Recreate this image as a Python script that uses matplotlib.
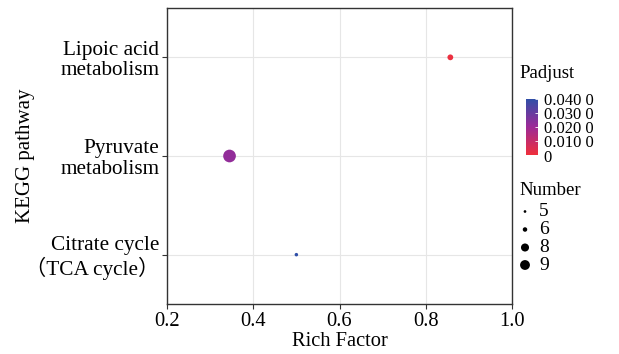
import matplotlib
matplotlib.use("Agg")
import matplotlib.pyplot as plt
import numpy as np
from matplotlib.colors import LinearSegmentedColormap, Normalize

# ---- data ----
pathways = ["Citrate cycle\n\uff08TCA cycle\uff09", "Pyruvate\nmetabolism", "Lipoic acid\nmetabolism"]
rich_factor = [0.50, 0.345, 0.857]
padjust = [0.040, 0.022, 0.001]
number = [5, 9, 6]
legend_numbers = [5, 6, 8, 9]
cbar_ticks = [0, 0.01, 0.02, 0.03, 0.04]
cbar_labels = ["0", "0.010 0", "0.020 0", "0.030 0", "0.040 0"]
x_ticks = [0.2, 0.4, 0.6, 0.8, 1.0]

FONT = ["Liberation Serif", "Noto Sans CJK SC", "DejaVu Sans"]
plt.rcParams["font.family"] = FONT

cmap = LinearSegmentedColormap.from_list(
    "padj", [(0.0, "#F0303C"), (0.5, "#9C2A98"), (1.0, "#2C50A8")])
norm = Normalize(vmin=0, vmax=0.0405)

def size_pts(n):
    # diameter in px -> points^2 (dpi 100)
    d_px = 3.5 + (n - 5) * 2.3
    d_pt = d_px * 0.72
    return d_pt ** 2

fig = plt.figure(figsize=(6.19, 3.54), dpi=100)
ax = fig.add_axes([167/619, 1-304/354, (512-167)/619, (304-8)/354])

ypos = np.arange(1, len(pathways) + 1)
ax.scatter(rich_factor, ypos, s=[size_pts(n) for n in number],
           c=padjust, cmap=cmap, norm=norm, edgecolors="none", zorder=3)

ax.set_xlim(0.2, 1.0)
ax.set_ylim(0.5, 3.5)
ax.set_xticks(x_ticks)
ax.set_xticklabels([f"{v:.1f}" for v in x_ticks])
ax.set_yticks(ypos)
ax.set_yticklabels(pathways, linespacing=1.08)
ax.grid(True, color="#E6E6E6", linewidth=0.8, zorder=0)
ax.set_axisbelow(True)
for sp in ax.spines.values():
    sp.set_color("#333333")
    sp.set_linewidth(1.0)
ax.tick_params(axis="both", length=3.5, width=0.8,
               color="#333333", direction="out", pad=2)
ax.tick_params(axis="x", labelsize=14.8)
ax.tick_params(axis="y", labelsize=15.3, pad=2)
ax.set_xlabel("Rich Factor", fontsize=14.8, labelpad=1)
ax.set_ylabel("KEGG pathway", fontsize=15)
ax.yaxis.set_label_coords((35 - 167) / 345, 0.5)

# ---- colorbar legend ----
fig.text(519/619, 1-73/354, "Padjust", fontsize=13.5, va="center", ha="left")
cax = fig.add_axes([526/619, 1-155.5/354, 12/619, 57/354])
grad = np.linspace(0, 0.0405, 256).reshape(-1, 1)
cax.imshow(grad, aspect="auto", cmap=cmap, norm=norm, origin="lower",
           extent=[0, 1, 0, 0.0405])
cax.set_xticks([])
cax.yaxis.tick_right()
cax.set_yticks(cbar_ticks)
cax.set_yticklabels(cbar_labels)
cax.tick_params(axis="y", labelsize=12, length=2.5, width=0.6,
                color="white", direction="in", pad=4)
for sp in cax.spines.values():
    sp.set_visible(False)

# ---- size legend ----
fig.text(519/619, 1-190/354, "Number", fontsize=13.5, va="center", ha="left")
leg_y = [211.5, 229.5, 247.5, 265]
for n, yy in zip(legend_numbers, leg_y):
    fig.text(539/619, 1-yy/354, str(n), fontsize=14, va="center", ha="left")
lax = fig.add_axes([515/619, 1-275/354, 20/619, 75/354])
lax.set_xlim(0, 20)
lax.set_ylim(275, 200)
lax.axis("off")
lax.scatter([10]*len(legend_numbers), leg_y,
            s=[size_pts(n) * 0.6 for n in legend_numbers], c="black",
            edgecolors="none")

fig.savefig("out.png", dpi=100)
